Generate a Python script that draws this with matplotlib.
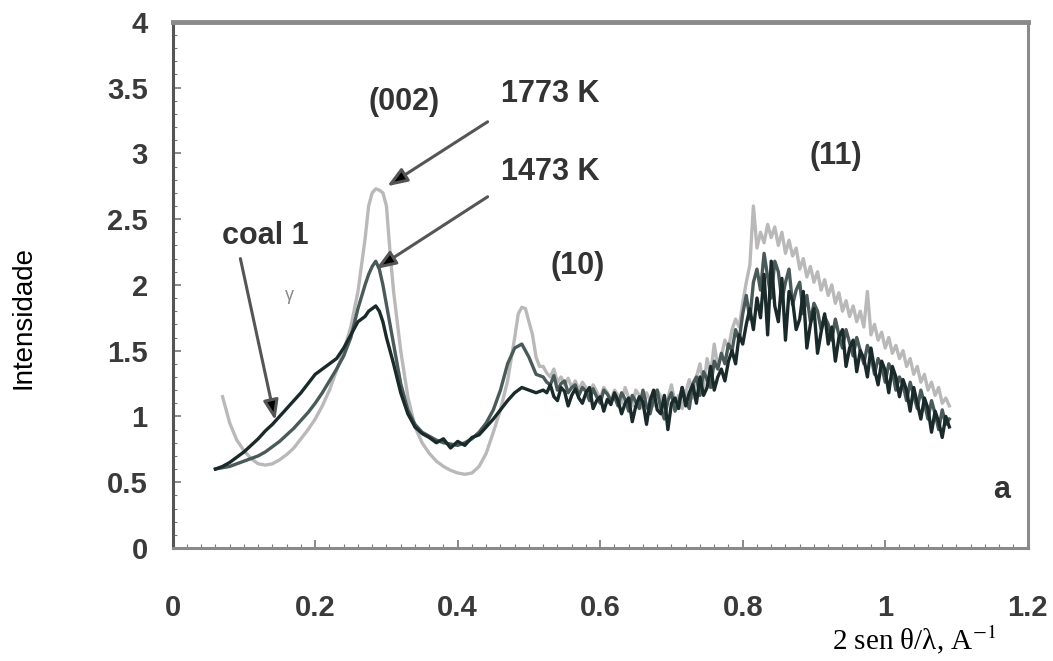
import numpy as np
import matplotlib
matplotlib.use("Agg")
import matplotlib.pyplot as plt
from matplotlib.ticker import MultipleLocator

plt.rcParams["font.family"] = ["Liberation Sans", "DejaVu Sans"]
plt.rcParams["mathtext.fontset"] = "stix"

x_ticks = [0, 0.2, 0.4, 0.6, 0.8, 1.0, 1.2]
x_labels = ["0", "0.2", "0.4", "0.6", "0.8", "1", "1.2"]
y_ticks = [0, 0.5, 1, 1.5, 2, 2.5, 3, 3.5, 4]
y_labels = ["0", "0.5", "1", "1.5", "2", "2.5", "3", "3.5", "4"]

# low-angle part of the patterns
coal_x = [0.06, 0.07, 0.08, 0.09, 0.10, 0.11, 0.12, 0.13, 0.14, 0.15, 0.16, 0.17,
          0.18, 0.19, 0.20, 0.21, 0.22, 0.23, 0.24, 0.25, 0.26, 0.27, 0.275, 0.28,
          0.285, 0.29, 0.295, 0.30, 0.31, 0.32, 0.33, 0.34, 0.35, 0.36, 0.37, 0.38,
          0.39, 0.40, 0.41, 0.42, 0.43, 0.44, 0.45, 0.46, 0.47, 0.48, 0.49, 0.50, 0.51]
coal_y = [0.60, 0.62, 0.65, 0.69, 0.73, 0.78, 0.83, 0.89, 0.94, 1.00, 1.06, 1.12,
          1.18, 1.25, 1.32, 1.36, 1.40, 1.44, 1.52, 1.62, 1.72, 1.76, 1.80, 1.82,
          1.84, 1.80, 1.72, 1.60, 1.40, 1.18, 1.02, 0.92, 0.87, 0.84, 0.80, 0.83,
          0.76, 0.81, 0.78, 0.84, 0.86, 0.92, 0.98, 1.05, 1.12, 1.18, 1.22, 1.20, 1.18]
k1473_y = [0.60, 0.61, 0.62, 0.64, 0.66, 0.68, 0.70, 0.73, 0.77, 0.81, 0.86, 0.91,
           0.97, 1.03, 1.10, 1.18, 1.27, 1.36, 1.46, 1.60, 1.82, 2.00, 2.08, 2.14,
           2.18, 2.12, 2.00, 1.85, 1.55, 1.25, 1.05, 0.94, 0.88, 0.85, 0.82, 0.80,
           0.79, 0.78, 0.80, 0.83, 0.88, 0.95, 1.05, 1.20, 1.40, 1.52, 1.55, 1.45, 1.32]
k1773_x = [0.07, 0.08, 0.09, 0.10, 0.11, 0.12, 0.13, 0.14, 0.15, 0.16, 0.17, 0.18,
           0.19, 0.20, 0.21, 0.22, 0.23, 0.24, 0.25, 0.26, 0.27, 0.275, 0.28, 0.285,
           0.29, 0.295, 0.30, 0.305, 0.31, 0.32, 0.33, 0.34, 0.35, 0.36, 0.37, 0.38,
           0.39, 0.40, 0.41, 0.42, 0.43, 0.44, 0.45, 0.46, 0.47, 0.48, 0.485, 0.49,
           0.495, 0.50, 0.505, 0.51, 0.515]
k1773_y = [1.15, 0.95, 0.82, 0.74, 0.68, 0.64, 0.63, 0.64, 0.67, 0.71, 0.76, 0.83,
           0.90, 0.98, 1.08, 1.20, 1.35, 1.50, 1.68, 1.95, 2.35, 2.60, 2.70, 2.73,
           2.72, 2.70, 2.60, 2.25, 1.95, 1.50, 1.15, 0.92, 0.80, 0.72, 0.66, 0.62,
           0.59, 0.57, 0.56, 0.57, 0.62, 0.72, 0.88, 1.05, 1.27, 1.60, 1.78, 1.83,
           1.82, 1.72, 1.62, 1.45, 1.38]

# noisy high-angle part, sampled every 0.005 from 0.52 to 1.09
tail_x = np.round(np.arange(0.52, 1.0901, 0.005), 3)
coal_tail = [1.20, 1.18, 1.24, 1.15, 1.12, 1.22, 1.19, 1.08, 1.16, 1.21,
             1.14, 1.10, 1.18, 1.22, 1.06, 1.12, 1.15, 1.04, 1.13, 1.09,
             1.18, 1.12, 1.02, 1.10, 1.14, 0.96, 1.08, 1.15, 1.11, 0.94,
             1.12, 1.20, 1.05, 1.02, 1.16, 0.90, 1.10, 1.14, 1.06, 1.22,
             1.08, 1.18, 1.24, 1.10, 1.30, 1.16, 1.22, 1.38, 1.20, 1.30,
             1.36, 1.27, 1.42, 1.50, 1.40, 1.62, 1.55, 1.70, 1.82, 1.66,
             1.90, 1.75, 2.08, 1.62, 2.18, 1.84, 1.72, 2.05, 1.58, 1.95,
             1.88, 1.66, 1.74, 1.95, 1.52, 1.70, 1.82, 1.48, 1.64, 1.78,
             1.55, 1.68, 1.42, 1.60, 1.66, 1.38, 1.52, 1.58, 1.34, 1.50,
             1.44, 1.30, 1.52, 1.36, 1.24, 1.42, 1.35, 1.18, 1.38, 1.30,
             1.15, 1.28, 1.20, 1.04, 1.22, 1.10, 0.98, 1.14, 1.06, 0.88,
             1.04, 0.96, 0.84, 1.00, 0.92]
k1473_tail = [1.30, 1.26, 1.24, 1.31, 1.20, 1.25, 1.27, 1.18, 1.22, 1.24,
              1.16, 1.22, 1.19, 1.12, 1.21, 1.15, 1.10, 1.20, 1.17, 1.12,
              1.15, 1.08, 1.18, 1.13, 1.04, 1.16, 1.11, 1.06, 1.20, 1.08,
              1.02, 1.14, 1.20, 1.06, 0.98, 1.12, 1.18, 1.04, 1.10, 1.22,
              1.12, 1.06, 1.25, 1.30, 1.16, 1.34, 1.28, 1.22, 1.42, 1.36,
              1.48, 1.40, 1.55, 1.50, 1.66, 1.58, 1.78, 1.92, 1.74, 2.02,
              2.12, 1.96, 2.24, 2.06, 1.90, 2.18, 2.10, 1.88, 2.02, 2.12,
              1.85, 1.96, 2.02, 1.78, 1.92, 1.72, 1.86, 1.80, 1.66, 1.76,
              1.70, 1.58, 1.74, 1.62, 1.52, 1.66, 1.56, 1.46, 1.60, 1.50,
              1.40, 1.54, 1.46, 1.32, 1.44, 1.38, 1.26, 1.40, 1.34, 1.20,
              1.30, 1.24, 1.12, 1.26, 1.16, 1.06, 1.20, 1.10, 0.98, 1.12,
              1.02, 0.90, 1.05, 0.94, 0.98]
k1773_tail = [1.38, 1.33, 1.30, 1.36, 1.26, 1.30, 1.24, 1.29, 1.22, 1.27,
              1.20, 1.26, 1.22, 1.16, 1.24, 1.19, 1.13, 1.22, 1.18, 1.12,
              1.20, 1.16, 1.10, 1.22, 1.14, 1.08, 1.20, 1.16, 1.06, 1.18,
              1.12, 1.08, 1.20, 1.15, 1.02, 1.14, 1.24, 1.10, 1.16, 1.06,
              1.18, 1.28, 1.14, 1.30, 1.40, 1.22, 1.44, 1.32, 1.55, 1.38,
              1.46, 1.58, 1.52, 1.66, 1.74, 1.68, 1.86, 2.02, 2.15, 2.60,
              2.28, 2.40, 2.32, 2.46, 2.36, 2.44, 2.30, 2.40, 2.24, 2.34,
              2.22, 2.28, 2.12, 2.20, 2.06, 2.14, 2.02, 2.10, 1.96, 2.04,
              1.92, 2.00, 1.86, 1.94, 1.80, 1.88, 1.76, 1.84, 1.72, 1.80,
              1.68, 1.95, 1.62, 1.70, 1.58, 1.64, 1.52, 1.60, 1.48, 1.54,
              1.44, 1.50, 1.38, 1.44, 1.32, 1.38, 1.26, 1.32, 1.20, 1.26,
              1.16, 1.22, 1.10, 1.14, 1.08]

fig = plt.figure(figsize=(10.53, 6.61), dpi=100)
ax = fig.add_axes([0.164, 0.171, 0.812, 0.796])

ax.plot(k1773_x + list(tail_x), k1773_y + k1773_tail, color="#b9b9b9", lw=2.4)
ax.plot(coal_x + list(tail_x), k1473_y + k1473_tail, color="#4a5a58", lw=2.4)
ax.plot(coal_x + list(tail_x), coal_y + coal_tail, color="#1a2a2a", lw=2.4)

ax.set_xlim(0, 1.2)
ax.set_ylim(0, 4)
ax.set_xticks(x_ticks, x_labels)
ax.set_yticks(y_ticks, y_labels)
ax.xaxis.set_minor_locator(MultipleLocator(0.02))
ax.yaxis.set_minor_locator(MultipleLocator(0.1))
ax.tick_params(which="both", direction="in", colors="#777")
ax.tick_params(which="major", length=6, width=1.2, labelsize=21, labelcolor="#3a3a3a")
ax.tick_params(which="minor", length=3, width=0.8)
ax.tick_params(axis="x", which="major", pad=33)
ax.tick_params(axis="y", which="major", pad=18)
for lab in ax.get_xticklabels() + ax.get_yticklabels():
    lab.set_fontweight("bold")
for side in ax.spines:
    ax.spines[side].set_color("#8a8a8a")
    ax.spines[side].set_linewidth(2.2)
ax.spines["left"].set_color("#555")
ax.spines["top"].set_linewidth(3.5)

txt = dict(fontsize=22, fontweight="bold", color="#333", ha="center", va="center")
ax.text(0.325, 3.39, "(002)", **txt)
ax.text(0.53, 3.45, "1773 K", **txt)
ax.text(0.53, 2.86, "1473 K", **txt)
ax.text(0.568, 2.14, "(10)", **txt)
ax.text(0.93, 2.98, "(11)", **txt)
ax.text(0.13, 2.37, "coal 1", **txt)
ax.text(1.163, 0.44, "a", **txt)
ax.text(0.164, 1.92, "γ", fontsize=13, color="#888", ha="center", va="center")

arrow = dict(arrowstyle="-|>,head_length=1.2,head_width=0.45", facecolor="black",
             edgecolor="#555", lw=2.2, shrinkA=0, shrinkB=0)
ax.annotate("", xy=(0.301, 2.75), xytext=(0.442, 3.24), arrowprops=arrow)
ax.annotate("", xy=(0.285, 2.12), xytext=(0.442, 2.67), arrowprops=arrow)
ax.annotate("", xy=(0.144, 0.97), xytext=(0.095, 2.2), arrowprops=arrow)

fig.text(0.022, 0.52, "Intensidade", rotation=90, fontsize=20,
         ha="center", va="center")
fig.text(0.79, 0.033, r"2 sen θ/λ, A$^{-1}$", fontsize=21,
         family=["Liberation Serif", "DejaVu Serif"], ha="left", va="center")

fig.savefig("out.png", dpi=100)
